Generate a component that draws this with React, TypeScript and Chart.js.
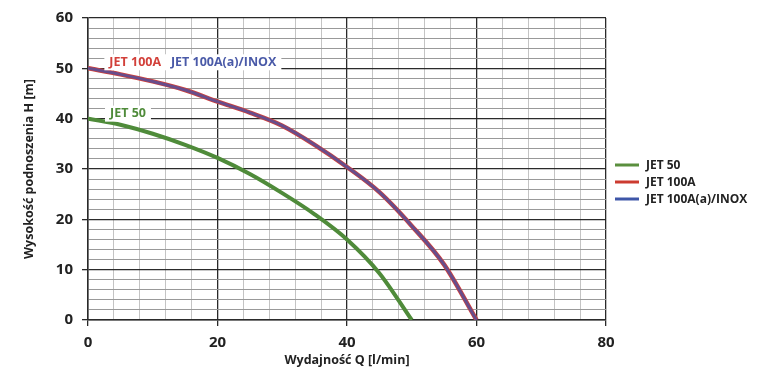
import React, { useEffect, useRef } from "react";
import { Chart, registerables } from "chart.js";

Chart.register(...registerables);

const flowJet50 = [0, 5, 10, 15, 20, 25, 30, 35, 40, 45, 50];
const headJet50 = [40, 38.8, 37, 34.8, 32.2, 29, 25.2, 21, 16, 9.3, 0];

const flowJet100 = [0, 5, 10, 15, 20, 25, 30, 35, 40, 45, 50, 55, 60];
const headJet100A = [50, 48.8, 47.4, 45.7, 43.4, 41.2, 38.6, 34.8, 30.4, 25.4, 18.7, 11, 0];
const headJet100AInox = [50, 48.8, 47.4, 45.7, 43.4, 41.2, 38.6, 34.8, 30.4, 25.4, 18.7, 11, 0];

const seriesNames = ["JET 50", "JET 100A", "JET 100A(a)/INOX"];
const seriesColors = ["#4f8b3a", "#d2403a", "rgba(62,82,170,0.72)"];
const legendColors = ["#5a8f3e", "#cc3b30", "#3e56a8"];

// in-plot labels: text, anchor x (l/min), anchor y (m)
const labelTexts = ["JET 100A", "JET 100A(a)/INOX", "JET 50"];
const labelQ = [3.3, 12.8, 3.4];
const labelH = [51.2, 51.2, 41.0];
const labelColor = ["#d2403a", "#4a5aa8", "#4f8b3a"];

const xTitle = "Wydajność Q [l/min]";
const yTitle = "Wysokość podnoszenia H [m]";

const FONT = "'Open Sans', sans-serif";

const toXY = (xs: number[], ys: number[]) => xs.map((x, i) => ({ x, y: ys[i] }));

const labelPlugin = {
  id: "inlineLabels",
  afterDatasetsDraw(chart: any) {
    const { ctx, scales } = chart;
    ctx.save();
    ctx.font = `bold 12.5px ${FONT}`;
    ctx.textBaseline = "middle";
    ctx.textAlign = "left";
    labelTexts.forEach((t, i) => {
      const px = scales.x.getPixelForValue(labelQ[i]);
      const py = scales.y.getPixelForValue(labelH[i]);
      const w = ctx.measureText(t).width;
      ctx.fillStyle = "#ffffff";
      ctx.fillRect(px - 5, py - 8, w + 10, 16);
      ctx.fillStyle = labelColor[i];
      ctx.fillText(t, px, py);
    });
    ctx.restore();
  },
};

const legendPlugin = {
  id: "customLegend",
  afterDraw(chart: any) {
    const { ctx, chartArea } = chart;
    ctx.save();
    ctx.font = `bold 12px ${FONT}`;
    ctx.textBaseline = "middle";
    ctx.textAlign = "left";
    const x0 = chartArea.right + 9;
    const y0 = 165;
    seriesNames.forEach((n, i) => {
      const y = y0 + i * 17;
      ctx.strokeStyle = legendColors[i];
      ctx.lineWidth = 3;
      ctx.beginPath();
      ctx.moveTo(x0, y);
      ctx.lineTo(x0 + 24, y);
      ctx.stroke();
      ctx.fillStyle = "#222";
      ctx.fillText(n, x0 + 31, y + 0.5);
    });
    ctx.restore();
  },
};

export default function App() {
  const ref = useRef<HTMLCanvasElement | null>(null);
  useEffect(() => {
    if (!ref.current) return;
    const chart = new Chart(ref.current, {
      type: "line",
      data: {
        datasets: [
          {
            label: seriesNames[0],
            data: toXY(flowJet50, headJet50),
            borderColor: seriesColors[0],
            borderWidth: 4,
            pointRadius: 0,
            cubicInterpolationMode: "monotone",
            order: 2,
          },
          {
            label: seriesNames[1],
            data: toXY(flowJet100, headJet100A),
            borderColor: seriesColors[1],
            borderWidth: 4.5,
            pointRadius: 0,
            cubicInterpolationMode: "monotone",
            order: 1,
          },
          {
            label: seriesNames[2],
            data: toXY(flowJet100, headJet100AInox),
            borderColor: seriesColors[2],
            borderWidth: 3,
            pointRadius: 0,
            cubicInterpolationMode: "monotone",
            order: 0,
          },
        ],
      },
      options: {
        responsive: false,
        animation: false,
        layout: { padding: { left: 0, right: 166, top: 13, bottom: 0 } },
        plugins: { legend: { display: false }, tooltip: { enabled: false } },
        scales: {
          x: {
            type: "linear",
            min: 0,
            max: 80,
            afterFit: (s: any) => {
              s.height = 56;
            },
            ticks: {
              stepSize: 4,
              autoSkip: false,
              maxRotation: 0,
              padding: 8,
              color: "#222",
              font: { family: FONT, size: 15, weight: "bold" },
              callback: (v: any) => (Number(v) % 20 === 0 ? String(v) : ""),
            },
            grid: {
              color: (c: any) => (c.tick && c.tick.value % 20 === 0 ? "#2a2a2a" : "#c4c4c4"),
              lineWidth: (c: any) => (c.tick && c.tick.value % 20 === 0 ? 1.3 : 1),
              tickColor: (c: any) => (c.tick && c.tick.value % 20 === 0 ? "#2a2a2a" : "rgba(0,0,0,0)"),
              tickLength: 6,
            },
            border: { color: "#2a2a2a", width: 1.5 },
            title: {
              display: true,
              text: xTitle,
              color: "#222",
              font: { family: FONT, size: 12.5, weight: "bold" },
              padding: { top: 0, bottom: 8 },
            },
          },
          y: {
            type: "linear",
            min: 0,
            max: 60,
            afterFit: (s: any) => {
              s.width = 88;
            },
            ticks: {
              stepSize: 2,
              autoSkip: false,
              padding: 9,
              color: "#222",
              font: { family: FONT, size: 15, weight: "bold" },
              callback: (v: any) => (Number(v) % 10 === 0 ? String(v) : ""),
            },
            grid: {
              color: (c: any) => (c.tick && c.tick.value % 10 === 0 ? "#2a2a2a" : "#999999"),
              lineWidth: (c: any) => (c.tick && c.tick.value % 10 === 0 ? 1.3 : 1),
              tickColor: (c: any) => (c.tick && c.tick.value % 10 === 0 ? "#2a2a2a" : "rgba(0,0,0,0)"),
              tickLength: 6,
            },
            border: { color: "#2a2a2a", width: 1.5 },
            title: {
              display: true,
              text: yTitle,
              color: "#222",
              font: { family: FONT, size: 12.5, weight: "bold" },
              padding: { top: 22, bottom: 0 },
            },
          },
        },
      },
      plugins: [labelPlugin, legendPlugin],
    } as any);
    return () => chart.destroy();
  }, []);
  return (
    <canvas
      ref={ref}
      width={772}
      height={376}
      style={{ position: "fixed", left: 0, top: 0, width: 772, height: 376, background: "#fff" }}
    />
  );
}
